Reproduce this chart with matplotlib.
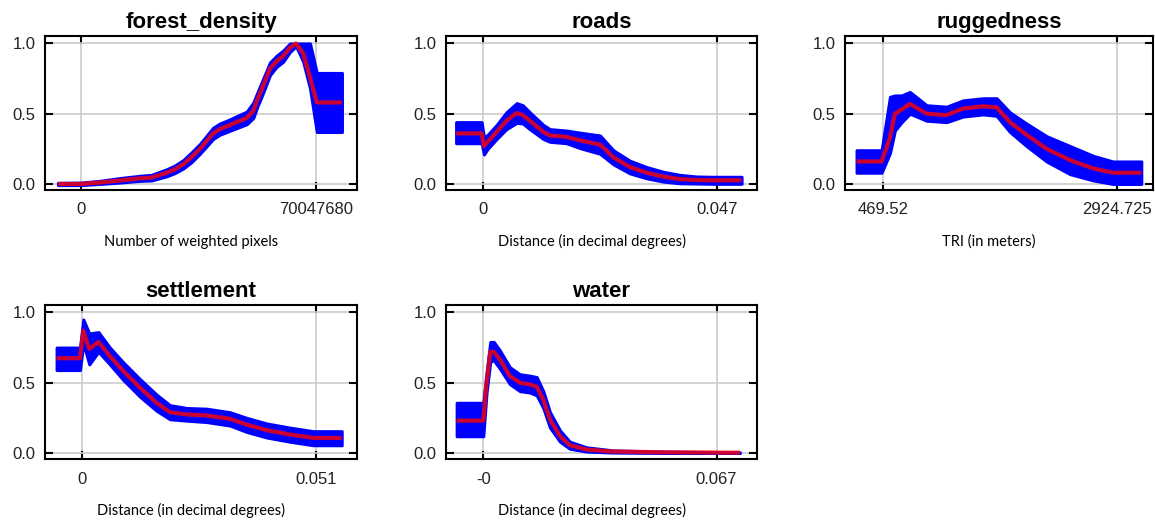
import matplotlib
matplotlib.use("Agg")
import matplotlib.pyplot as plt

# response curves: x, mean, lower, upper
forest_x = [-6.86e6, 0.0, 5.6e6, 1.163e7, 1.751e7, 2.101e7, 2.557e7, 2.802e7, 3.047e7,
            3.292e7, 3.544e7, 3.937e7, 4.133e7, 4.343e7, 4.938e7, 5.135e7, 5.254e7,
            5.429e7, 5.632e7, 5.814e7, 6.024e7, 6.227e7, 6.409e7, 6.620e7, 6.823e7,
            7.026e7, 7.775e7]
forest_mean = [0.0, 0.0, 0.01, 0.025, 0.04, 0.045, 0.08, 0.105, 0.14, 0.19, 0.25, 0.36,
               0.39, 0.41, 0.47, 0.52, 0.60, 0.70, 0.82, 0.87, 0.91, 0.97, 1.0, 0.93,
               0.76, 0.58, 0.58]
forest_lo = [-0.008, -0.008, 0.0, 0.01, 0.022, 0.025, 0.055, 0.078, 0.11, 0.155, 0.215,
             0.32, 0.35, 0.37, 0.425, 0.47, 0.55, 0.65, 0.775, 0.83, 0.87, 0.94, 0.98,
             0.87, 0.68, 0.37, 0.37]
forest_hi = [0.008, 0.01, 0.022, 0.042, 0.058, 0.065, 0.105, 0.132, 0.17, 0.225, 0.285,
             0.40, 0.43, 0.45, 0.515, 0.58, 0.65, 0.75, 0.865, 0.91, 0.95, 1.0, 1.0,
             1.0, 1.0, 0.79, 0.79]

roads_x = [-0.0054, -0.00028, 0.00019, 0.00094, 0.00273, 0.0047, 0.00677, 0.008, 0.0094,
           0.01213, 0.01344, 0.01678, 0.0195, 0.0235, 0.02618, 0.02952, 0.0329, 0.03619,
           0.03948, 0.04291, 0.04625, 0.05194]
roads_mean = [0.36, 0.36, 0.27, 0.30, 0.37, 0.45, 0.505, 0.49, 0.45, 0.37, 0.345, 0.335,
              0.31, 0.28, 0.19, 0.12, 0.08, 0.052, 0.035, 0.028, 0.026, 0.026]
roads_lo = [0.29, 0.29, 0.21, 0.25, 0.32, 0.39, 0.435, 0.43, 0.39, 0.32, 0.30, 0.29,
            0.255, 0.215, 0.14, 0.075, 0.04, 0.017, 0.005, 0.003, 0.001, 0.001]
roads_hi = [0.44, 0.44, 0.33, 0.35, 0.42, 0.51, 0.575, 0.56, 0.51, 0.42, 0.39, 0.38,
            0.365, 0.345, 0.24, 0.165, 0.12, 0.087, 0.065, 0.053, 0.051, 0.051]

rugged_x = [192.1, 454.8, 543.2, 594.7, 665.9, 752.0, 928.6, 1137.3, 1311.7, 1522.8,
            1662.8, 1802.7, 1976.9, 2188.2, 2433.7, 2679.2, 2885.4, 3182.5]
rugged_mean = [0.16, 0.16, 0.33, 0.50, 0.53, 0.57, 0.50, 0.49, 0.537, 0.553, 0.545,
               0.44, 0.35, 0.25, 0.17, 0.11, 0.08, 0.08]
rugged_lo = [0.08, 0.08, 0.22, 0.38, 0.44, 0.50, 0.45, 0.44, 0.48, 0.495, 0.485, 0.37,
             0.27, 0.16, 0.07, 0.025, 0.0, 0.0]
rugged_hi = [0.24, 0.24, 0.62, 0.63, 0.63, 0.655, 0.56, 0.55, 0.595, 0.61, 0.61, 0.51,
             0.43, 0.34, 0.27, 0.20, 0.16, 0.16]

settle_x = [-0.00561, -0.00051, 0.000224, 0.00153, 0.00352, 0.00602, 0.00893, 0.0126,
            0.01622, 0.01913, 0.0228, 0.02713, 0.03223, 0.03585, 0.04024, 0.04534,
            0.05039, 0.05661]
settle_mean = [0.674, 0.674, 0.87, 0.74, 0.79, 0.69, 0.583, 0.464, 0.357, 0.29, 0.274,
               0.267, 0.243, 0.202, 0.162, 0.131, 0.107, 0.107]
settle_lo = [0.59, 0.59, 0.78, 0.63, 0.72, 0.63, 0.52, 0.40, 0.30, 0.24, 0.23, 0.22,
             0.195, 0.15, 0.11, 0.08, 0.055, 0.055]
settle_hi = [0.75, 0.75, 0.95, 0.85, 0.86, 0.75, 0.645, 0.525, 0.415, 0.34, 0.32, 0.315,
             0.29, 0.25, 0.21, 0.18, 0.155, 0.155]

water_x = [-0.00764, 0.0, 0.00094, 0.00201, 0.00302, 0.00476, 0.00764, 0.01052, 0.0134,
           0.01534, 0.01722, 0.01916, 0.02204, 0.02486, 0.02968, 0.03732, 0.05166, 0.0737]
water_mean = [0.23, 0.23, 0.50, 0.72, 0.72, 0.667, 0.548, 0.50, 0.488, 0.471, 0.381,
              0.238, 0.119, 0.055, 0.024, 0.01, 0.005, 0.002]
water_lo = [0.119, 0.119, 0.43, 0.65, 0.66, 0.60, 0.49, 0.44, 0.43, 0.41, 0.32, 0.18,
            0.08, 0.03, 0.01, 0.003, 0.0, 0.0]
water_hi = [0.357, 0.357, 0.57, 0.79, 0.79, 0.73, 0.61, 0.56, 0.55, 0.54, 0.44, 0.29,
            0.16, 0.08, 0.04, 0.018, 0.01, 0.004]

titles = ["forest_density", "roads", "ruggedness", "settlement", "water"]
xlabels = ["Number of weighted pixels", "Distance (in decimal degrees)", "TRI (in meters)",
           "Distance (in decimal degrees)", "Distance (in decimal degrees)"]
xtick_vals = [[0, 70047680], [0, 0.047], [469.52, 2924.725], [0, 0.051], [0, 0.067]]
xtick_labels = [["0", "70047680"], ["0", "0.047"], ["469.52", "2924.725"],
                ["0", "0.051"], ["-0", "0.067"]]
xlims = [(-1.0717e7, 8.2236e7), (-0.00743, 0.05504), (70.8, 3305.6),
         (-0.00814, 0.05995), (-0.0107, 0.0786)]

curves = [(forest_x, forest_mean, forest_lo, forest_hi),
          (roads_x, roads_mean, roads_lo, roads_hi),
          (rugged_x, rugged_mean, rugged_lo, rugged_hi),
          (settle_x, settle_mean, settle_lo, settle_hi),
          (water_x, water_mean, water_lo, water_hi)]

W, H = 1155, 521
# axes boxes in pixels: left, right, top, bottom
boxes = [(45, 357, 36, 190), (446, 757, 36, 190), (845, 1153, 36, 190),
         (45, 357, 305, 459), (446, 757, 305, 459)]

fig = plt.figure(figsize=(W / 100, H / 100), dpi=100)
tick_font = "Liberation Sans"

for i in range(5):
    l, r, t, b = boxes[i]
    ax = fig.add_axes([l / W, 1 - b / H, (r - l) / W, (b - t) / H])
    x, m, lo, hi = curves[i]
    band = ax.fill_between(x, lo, hi, color="#0000ff", lw=2.2, edgecolor="#0000ff",
                           zorder=2)
    band.set_joinstyle("round")
    ax.plot(x, m, color="red", alpha=0.8, lw=3, solid_capstyle="butt",
            solid_joinstyle="round", zorder=3)

    ax.set_xlim(*xlims[i])
    ax.set_ylim(-0.043, 1.053)
    ax.set_xticks(xtick_vals[i])
    ax.set_xticklabels(xtick_labels[i])
    ax.set_yticks([0.0, 0.5, 1.0])
    ax.set_yticklabels(["0.0", "0.5", "1.0"])
    ax.grid(True, color="#cccccc", lw=1.2, zorder=0)
    ax.set_axisbelow(True)
    ax.tick_params(direction="in", length=6, width=1.5, top=True, right=True,
                   labelsize=12, labelcolor="#222222")
    ax.tick_params(axis="x", pad=9)
    ax.tick_params(axis="y", pad=7)
    for lab in ax.get_xticklabels() + ax.get_yticklabels():
        lab.set_fontfamily(tick_font)
    for sp in ax.spines.values():
        sp.set_linewidth(1.5)
    ax.set_title(titles[i], fontsize=16, fontweight="bold", family=tick_font, pad=6)
    ax.text(0.468, -0.335, xlabels[i], transform=ax.transAxes, ha="center",
            va="center", fontsize=10.5, family="Lato")

fig.savefig("out.png", dpi=100)
